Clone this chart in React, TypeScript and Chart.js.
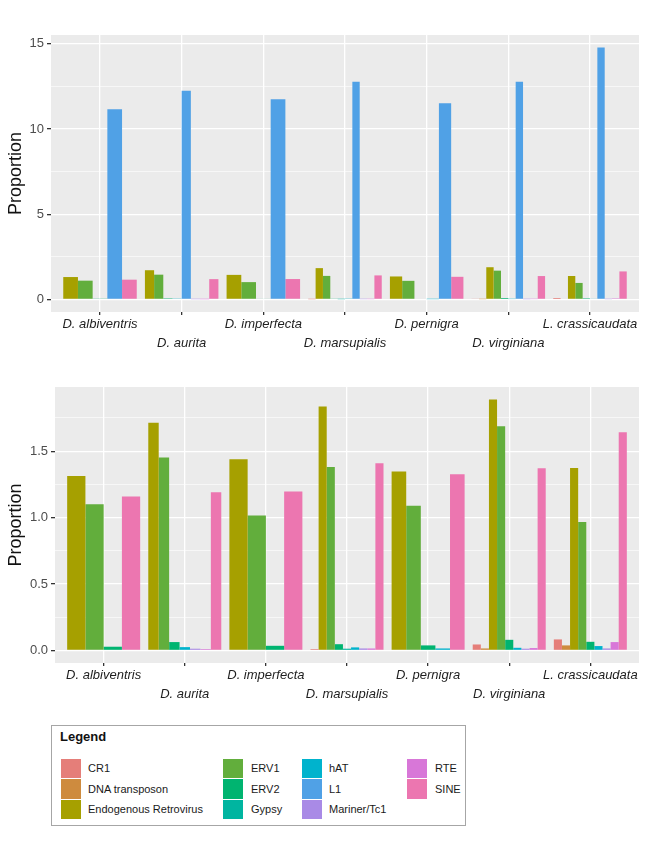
import React, { useEffect, useRef } from 'react';
import { Chart, registerables } from 'chart.js';

Chart.register(...registerables);

// ---------- data ----------
const species = [
  'D. albiventris',
  'D. aurita',
  'D. imperfecta',
  'D. marsupialis',
  'D. pernigra',
  'D. virginiana',
  'L. crassicaudata',
];

const seriesNames = [
  'CR1',
  'DNA transposon',
  'Endogenous Retrovirus',
  'ERV1',
  'ERV2',
  'Gypsy',
  'hAT',
  'L1',
  'Mariner/Tc1',
  'RTE',
  'SINE',
];

const seriesColors = [
  '#E57E79',
  '#CE8B3E',
  '#A6A000',
  '#62AE3C',
  '#00B470',
  '#00B5A0',
  '#00B3CD',
  '#50A1E6',
  '#A98AE6',
  '#D877D8',
  '#EC76B0',
];

type V = number | null;
const cr1: V[] = [null, null, null, 0.01, null, 0.045, 0.083];
const dnaTransposon: V[] = [null, null, null, null, null, 0.015, 0.038];
const endoRetro: V[] = [1.313, 1.713, 1.44, 1.836, 1.347, 1.889, 1.374];
const erv1: V[] = [1.1, 1.452, 1.015, 1.38, 1.09, 1.688, 0.967];
const erv2: V[] = [0.028, 0.063, 0.035, 0.047, 0.038, 0.08, 0.065];
const gypsy: V[] = [null, null, null, 0.013, null, null, null];
const hat: V[] = [null, 0.025, null, 0.023, 0.015, 0.02, 0.033];
const l1: V[] = [11.16, 12.24, 11.75, 12.78, 11.51, 12.78, 14.78];
const mariner: V[] = [null, 0.013, null, 0.015, null, 0.013, 0.015];
const rte: V[] = [null, 0.01, null, 0.015, null, 0.018, 0.063];
const sine: V[] = [1.158, 1.19, 1.196, 1.409, 1.326, 1.371, 1.643];

const allSeries: V[][] = [cr1, dnaTransposon, endoRetro, erv1, erv2, gypsy, hat, l1, mariner, rte, sine];

const topTicks = [0, 2.5, 5, 7.5, 10, 12.5, 15];
const topMajor = [0, 5, 10, 15];
const bottomTicks = [0, 0.25, 0.5, 0.75, 1, 1.25, 1.5, 1.75];
const bottomMajor = [0, 0.5, 1, 1.5];

const FONT = "'Liberation Sans', Arial, Helvetica, sans-serif";

const bgPlugin = {
  id: 'panelBg',
  beforeDraw(chart: any) {
    const { ctx, chartArea } = chart;
    if (!chartArea) return;
    ctx.save();
    ctx.fillStyle = '#EBEBEB';
    ctx.fillRect(chartArea.left, chartArea.top, chartArea.right - chartArea.left, chartArea.bottom - chartArea.top);
    ctx.restore();
  },
};

function makeConfig(
  include: boolean[],
  yMin: number,
  yMax: number,
  yTicks: number[],
  yMajor: number[],
  yDecimals: number,
  yWidth: number,
  xHeight: number,
  padTop: number,
  padRight: number
): any {
  const isMajor = (v: number) => yMajor.some((m) => Math.abs(m - v) < 1e-9);
  const datasets = seriesNames
    .map((name, si) => ({ name, si }))
    .filter(({ si }) => include[si])
    .map(({ name, si }) => ({
      label: name,
      data: allSeries[si].map((v, i) => ({ x: i, y: v })),
      backgroundColor: seriesColors[si],
      borderWidth: 0,
      skipNull: true,
      categoryPercentage: 0.9,
      barPercentage: 1.0,
    }));
  return {
    type: 'bar',
    data: { datasets },
    plugins: [bgPlugin],
    options: {
      responsive: false,
      animation: false,
      devicePixelRatio: 1,
      layout: { padding: { top: padTop, right: padRight, left: 0, bottom: 0 } },
      plugins: { legend: { display: false }, tooltip: { enabled: false } },
      scales: {
        x: {
          type: 'linear',
          offset: false,
          min: -0.6,
          max: species.length - 1 + 0.6,
          afterBuildTicks: (scale: any) => {
            scale.ticks = species.map((_, i) => ({ value: i }));
          },
          afterFit: (scale: any) => {
            scale.height = xHeight;
          },
          border: { display: false },
          grid: {
            offset: false,
            color: '#FFFFFF',
            lineWidth: 1.3,
            drawTicks: true,
            tickLength: 3,
            tickColor: '#333333',
          },
          ticks: {
            autoSkip: false,
            maxRotation: 0,
            minRotation: 0,
            padding: 0,
            color: '#1E1E1E',
            font: { family: FONT, size: 13, style: 'italic', lineHeight: 1.45 },
            callback: (_v: any, index: number) => (index % 2 === 0 ? species[index] : ['', species[index]]),
          },
        },
        y: {
          type: 'linear',
          min: yMin,
          max: yMax,
          afterBuildTicks: (scale: any) => {
            scale.ticks = yTicks.map((v) => ({ value: v }));
          },
          afterFit: (scale: any) => {
            scale.width = yWidth;
          },
          border: { display: false },
          grid: {
            color: '#FFFFFF',
            lineWidth: (ctx: any) => (ctx.tick && isMajor(ctx.tick.value) ? 1.3 : 0.6),
            drawTicks: true,
            tickLength: 4,
            tickColor: (ctx: any) => (ctx.tick && isMajor(ctx.tick.value) ? '#333333' : 'rgba(0,0,0,0)'),
          },
          ticks: {
            padding: 3,
            color: '#4D4D4D',
            font: { family: FONT, size: 13 },
            callback: (v: any) => (isMajor(Number(v)) ? Number(v).toFixed(yDecimals) : ''),
          },
          title: {
            display: true,
            text: 'Proportion',
            color: '#111111',
            font: { family: FONT, size: 18 },
            padding: { top: 5, bottom: 0 },
          },
        },
      },
    },
  };
}

function ChartCanvas({ config, width, height, top }: { config: any; width: number; height: number; top: number }) {
  const ref = useRef<HTMLCanvasElement | null>(null);
  useEffect(() => {
    if (!ref.current) return;
    const chart = new Chart(ref.current, config);
    return () => chart.destroy();
  }, [config]);
  return (
    <canvas
      ref={ref}
      width={width}
      height={height}
      style={{ position: 'absolute', left: 0, top, width, height, display: 'block' }}
    />
  );
}

const topInclude = seriesNames.map(() => true);
const bottomInclude = seriesNames.map((n) => n !== 'L1');

const topConfig = makeConfig(topInclude, -0.739, 15.519, topTicks, topMajor, 0, 51, 48, 35, 27);
const bottomConfig = makeConfig(bottomInclude, -0.0945, 1.983, bottomTicks, bottomMajor, 1, 55, 57, 27, 27);

// legend layout: column-major, 3 rows
const legendCols = [
  [0, 1, 2],
  [3, 4, 5],
  [6, 7, 8],
  [9, 10],
];
const legendSwatchX = [61, 223, 302, 407];
const legendTextX = [88, 251, 329, 435];

function Legend() {
  const rowTop = 758;
  const rowH = 20.7;
  return (
    <div style={{ position: 'absolute', left: 0, top: 0, width: 666, height: 858, pointerEvents: 'none' }}>
      <div
        style={{
          position: 'absolute',
          left: 51,
          top: 725,
          width: 415,
          height: 101,
          border: '1px solid #A6A6A6',
          boxSizing: 'border-box',
          background: '#FFFFFF',
        }}
      />
      <div
        style={{
          position: 'absolute',
          left: 60,
          top: 729,
          fontFamily: FONT,
          fontWeight: 'bold',
          fontSize: 13,
          lineHeight: '16px',
          color: '#111',
        }}
      >
        Legend
      </div>
      {legendCols.map((col, ci) =>
        col.map((si, ri) => (
          <React.Fragment key={si}>
            <div
              style={{
                position: 'absolute',
                left: legendSwatchX[ci],
                top: rowTop + ri * rowH + 0.5,
                width: 19.5,
                height: 19.5,
                background: seriesColors[si],
              }}
            />
            <div
              style={{
                position: 'absolute',
                left: legendTextX[ci],
                top: rowTop + ri * rowH + 3,
                fontFamily: FONT,
                fontSize: 11,
                lineHeight: '14px',
                color: '#1A1A1A',
                whiteSpace: 'nowrap',
              }}
            >
              {seriesNames[si]}
            </div>
          </React.Fragment>
        ))
      )}
    </div>
  );
}

export default function App() {
  return (
    <div style={{ position: 'absolute', left: 0, top: 0, width: 666, height: 858, background: '#FFFFFF', overflow: 'hidden' }}>
      <ChartCanvas config={topConfig} width={666} height={360} top={0} />
      <ChartCanvas config={bottomConfig} width={666} height={360} top={360} />
      <Legend />
    </div>
  );
}
